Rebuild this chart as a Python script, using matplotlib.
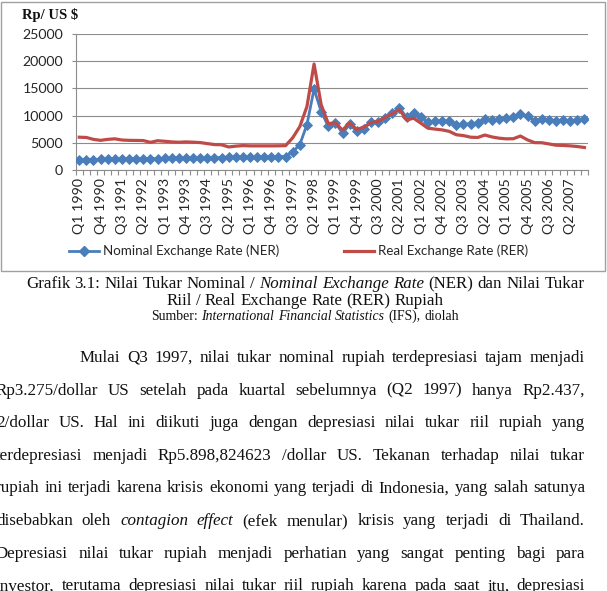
import matplotlib
matplotlib.use("Agg")
import matplotlib.pyplot as plt
import numpy as np
from matplotlib.patches import Rectangle
from matplotlib.lines import Line2D

W, H = 607, 591

# ---------------- data ----------------
years = list(range(1990, 2008))
quarters = [f"Q{q} {y}" for y in years for q in (1, 2, 3, 4)]

ner = [1815, 1836, 1862, 1901,
       1932, 1950, 1970, 1992,
       2013, 2029, 2045, 2062,
       2077, 2087, 2100, 2110,
       2130, 2148, 2167, 2200,
       2227, 2259, 2293, 2308,
       2323, 2342, 2359, 2383,
       2419, 2437, 3275, 4650,
       8325, 14900, 10700, 8025,
       8685, 6726, 8386, 7085,
       7590, 8735, 8780, 9595,
       10400, 11440, 9675, 10400,
       9655, 8730, 9015, 8940,
       8908, 8285, 8389, 8465,
       8587, 9415, 9170, 9290,
       9480, 9713, 10310, 9830,
       9075, 9300, 9235, 9020,
       9118, 9054, 9137, 9419]

rer = [6000, 5950, 5600, 5420,
       5600, 5700, 5480, 5420,
       5400, 5380, 5050, 5350,
       5250, 5130, 5070, 5130,
       5080, 5010, 4820, 4640,
       4600, 4200, 4350, 4450,
       4400, 4400, 4400, 4400,
       4410, 4440, 5899, 7970,
       11670, 19520, 12000, 8500,
       8650, 7300, 8700, 7400,
       7900, 8700, 8900, 9700,
       10350, 11100, 9200, 9500,
       8590, 7660, 7500, 7350,
       7080, 6450, 6300, 6000,
       5950, 6400, 6050, 5820,
       5700, 5720, 6220, 5500,
       5000, 4980, 4760, 4520,
       4480, 4400, 4280, 4100]

y_ticks = [0, 5000, 10000, 15000, 20000, 25000]
label_step = 3
series_names = ["Nominal Exchange Rate (NER)", "Real Exchange Rate (RER)"]
y_unit = "Rp/ US $"

caption_lines = [
    [("Grafik 3.1: Nilai Tukar Nominal /", False), ("Nominal Exchange Rate", True),
     ("(NER) dan Nilai Tukar", False)],
    [("Riil / Real Exchange Rate (RER) Rupiah", False)],
]
source_line = [("Sumber:", False), ("International Financial Statistics", True),
               ("(IFS), diolah", False)]

body_lines = [
    [("Mulai Q3 1997, nilai tukar nominal rupiah terdepresiasi tajam menjadi", False)],
    [("Rp3.275/dollar US setelah pada kuartal sebelumnya (Q2 1997) hanya Rp2.437,", False)],
    [("2/dollar US. Hal ini diikuti juga dengan depresiasi nilai tukar riil rupiah yang", False)],
    [("terdepresiasi menjadi Rp5.898,824623 /dollar US. Tekanan terhadap nilai tukar", False)],
    [("rupiah ini terjadi karena krisis ekonomi yang terjadi di Indonesia, yang salah satunya", False)],
    [("disebabkan oleh", False), ("contagion effect", True),
     ("(efek menular) krisis yang terjadi di Thailand.", False)],
    [("Depresiasi nilai tukar rupiah menjadi perhatian yang sangat penting bagi para", False)],
    [("investor, terutama depresiasi nilai tukar riil rupiah karena pada saat itu, depresiasi", False)],
]

# ---------------- figure ----------------
BLUE = "#4A7EBB"
RED = "#BE4B48"
GRID = "#8C8C8C"
CHART_FONT = ["Lato", "DejaVu Sans"]
SERIF = ["Liberation Serif", "DejaVu Serif"]
CFS = 10.2
LFS = 9.6

fig = plt.figure(figsize=(W / 100, H / 100), dpi=100)
fig.patch.set_facecolor("white")

# chart frame
fig.add_artist(Rectangle((1 / W, 1 - 271 / H), 604 / W, 269 / H,
                         transform=fig.transFigure, fill=False,
                         edgecolor="#A0A0A0", linewidth=1.0))

left, right, top, bottom = 75.7, 588.0, 34.3, 169.7
ax = fig.add_axes([left / W, 1 - bottom / H, (right - left) / W, (bottom - top) / H])
x = np.arange(len(quarters))
ax.plot(x, ner, color=BLUE, lw=2.0, marker="D", ms=4.8, mfc=BLUE, mec=BLUE,
        mew=0.6, zorder=3)
ax.plot(x, rer, color=RED, lw=2.3, zorder=4)

ax.set_xlim(-0.5, len(quarters) - 0.5)
ax.set_ylim(y_ticks[0], y_ticks[-1])
ax.set_yticks(y_ticks)
ax.set_yticklabels([str(v) for v in y_ticks], fontfamily=CHART_FONT, fontsize=CFS,
                   color="#262626")
ax.set_xticks(x[::label_step])
ax.set_xticklabels(quarters[::label_step], rotation=90, fontfamily=CHART_FONT,
                   fontsize=CFS, color="#262626")
ax.set_xticks(np.arange(-0.5, len(quarters), 1), minor=True)
ax.tick_params(axis="x", which="major", length=0, pad=6)
ax.tick_params(axis="x", which="minor", length=3.5, color=GRID, width=0.8)
ax.tick_params(axis="y", length=3, color=GRID, width=0.8, pad=6)
ax.grid(axis="y", color=GRID, lw=0.8)
ax.set_axisbelow(True)
for s in ("top", "right"):
    ax.spines[s].set_visible(False)
for s in ("left", "bottom"):
    ax.spines[s].set_color(GRID)
    ax.spines[s].set_linewidth(0.8)

fig.text(22 / W, 1 - 15 / H, y_unit, fontfamily=SERIF, fontweight="bold",
         fontsize=10.5, ha="left", va="center", color="#111111")

handles = [Line2D([], [], color=BLUE, lw=2.0, marker="D", ms=4.8, mfc=BLUE, mec=BLUE),
           Line2D([], [], color=RED, lw=2.3)]
fig.legend(handles, series_names, loc="center", bbox_to_anchor=(298.5 / W, 1 - 251 / H),
           ncol=2, frameon=False, handlelength=2.2, handletextpad=0.3,
           columnspacing=4.9, prop={"family": CHART_FONT, "size": LFS},
           labelcolor="#262626")

# ---------------- text helpers ----------------
renderer = fig.canvas.get_renderer()


def words_of(runs):
    out = []
    for txt, it in runs:
        for w in txt.split():
            out.append((w, it))
    return out


def measure(t):
    return t.get_window_extent(renderer).width


def space_width(size):
    p1 = fig.text(0, 0, "n n", fontfamily=SERIF, fontsize=size)
    p2 = fig.text(0, 0, "nn", fontfamily=SERIF, fontsize=size)
    s = measure(p1) - measure(p2)
    p1.remove()
    p2.remove()
    return s


def natural_width(runs, size):
    ws = words_of(runs)
    total = 0
    for w, it in ws:
        t = fig.text(0, 0, w, fontfamily=SERIF, fontsize=size,
                     fontstyle="italic" if it else "normal")
        total += measure(t)
        t.remove()
    return total + space_width(size) * (len(ws) - 1)


def draw_line(runs, y_base, size, x_left=None, x_right=None, center=None):
    ws = words_of(runs)
    arts, widths = [], []
    for w, it in ws:
        t = fig.text(0, 0, w, fontfamily=SERIF, fontsize=size,
                     fontstyle="italic" if it else "normal",
                     ha="left", va="baseline", color="#111111")
        arts.append(t)
        widths.append(measure(t))
    space = space_width(size)
    if center is not None:
        total = sum(widths) + space * (len(ws) - 1)
        cur = center - total / 2
        gap = space
    else:
        cur = x_left
        gap = (x_right - x_left - sum(widths)) / max(len(ws) - 1, 1)
    for t, w in zip(arts, widths):
        t.set_position((cur / W, 1 - y_base / H))
        cur += w + gap


# caption sized so its first line spans ~560 px
cap_size = 10.0 * 560 / natural_width(caption_lines[0], 10.0)
draw_line(caption_lines[0], 288, cap_size, center=305)
draw_line(caption_lines[1], 305, cap_size, center=305)
draw_line(source_line, 320, cap_size * 0.81, center=305)

# body sized so the tightest line nearly fills the text block
x_r = 585
body_size = 10.0 * (x_r + 4) * 0.985 / natural_width(body_lines[4], 10.0)
y0, dy = 362, 32.6
for i, runs in enumerate(body_lines):
    xl = 80 if i == 0 else -4
    draw_line(runs, y0 + i * dy, body_size, x_left=xl, x_right=x_r)

fig.savefig("out.png", dpi=100, facecolor="white")
